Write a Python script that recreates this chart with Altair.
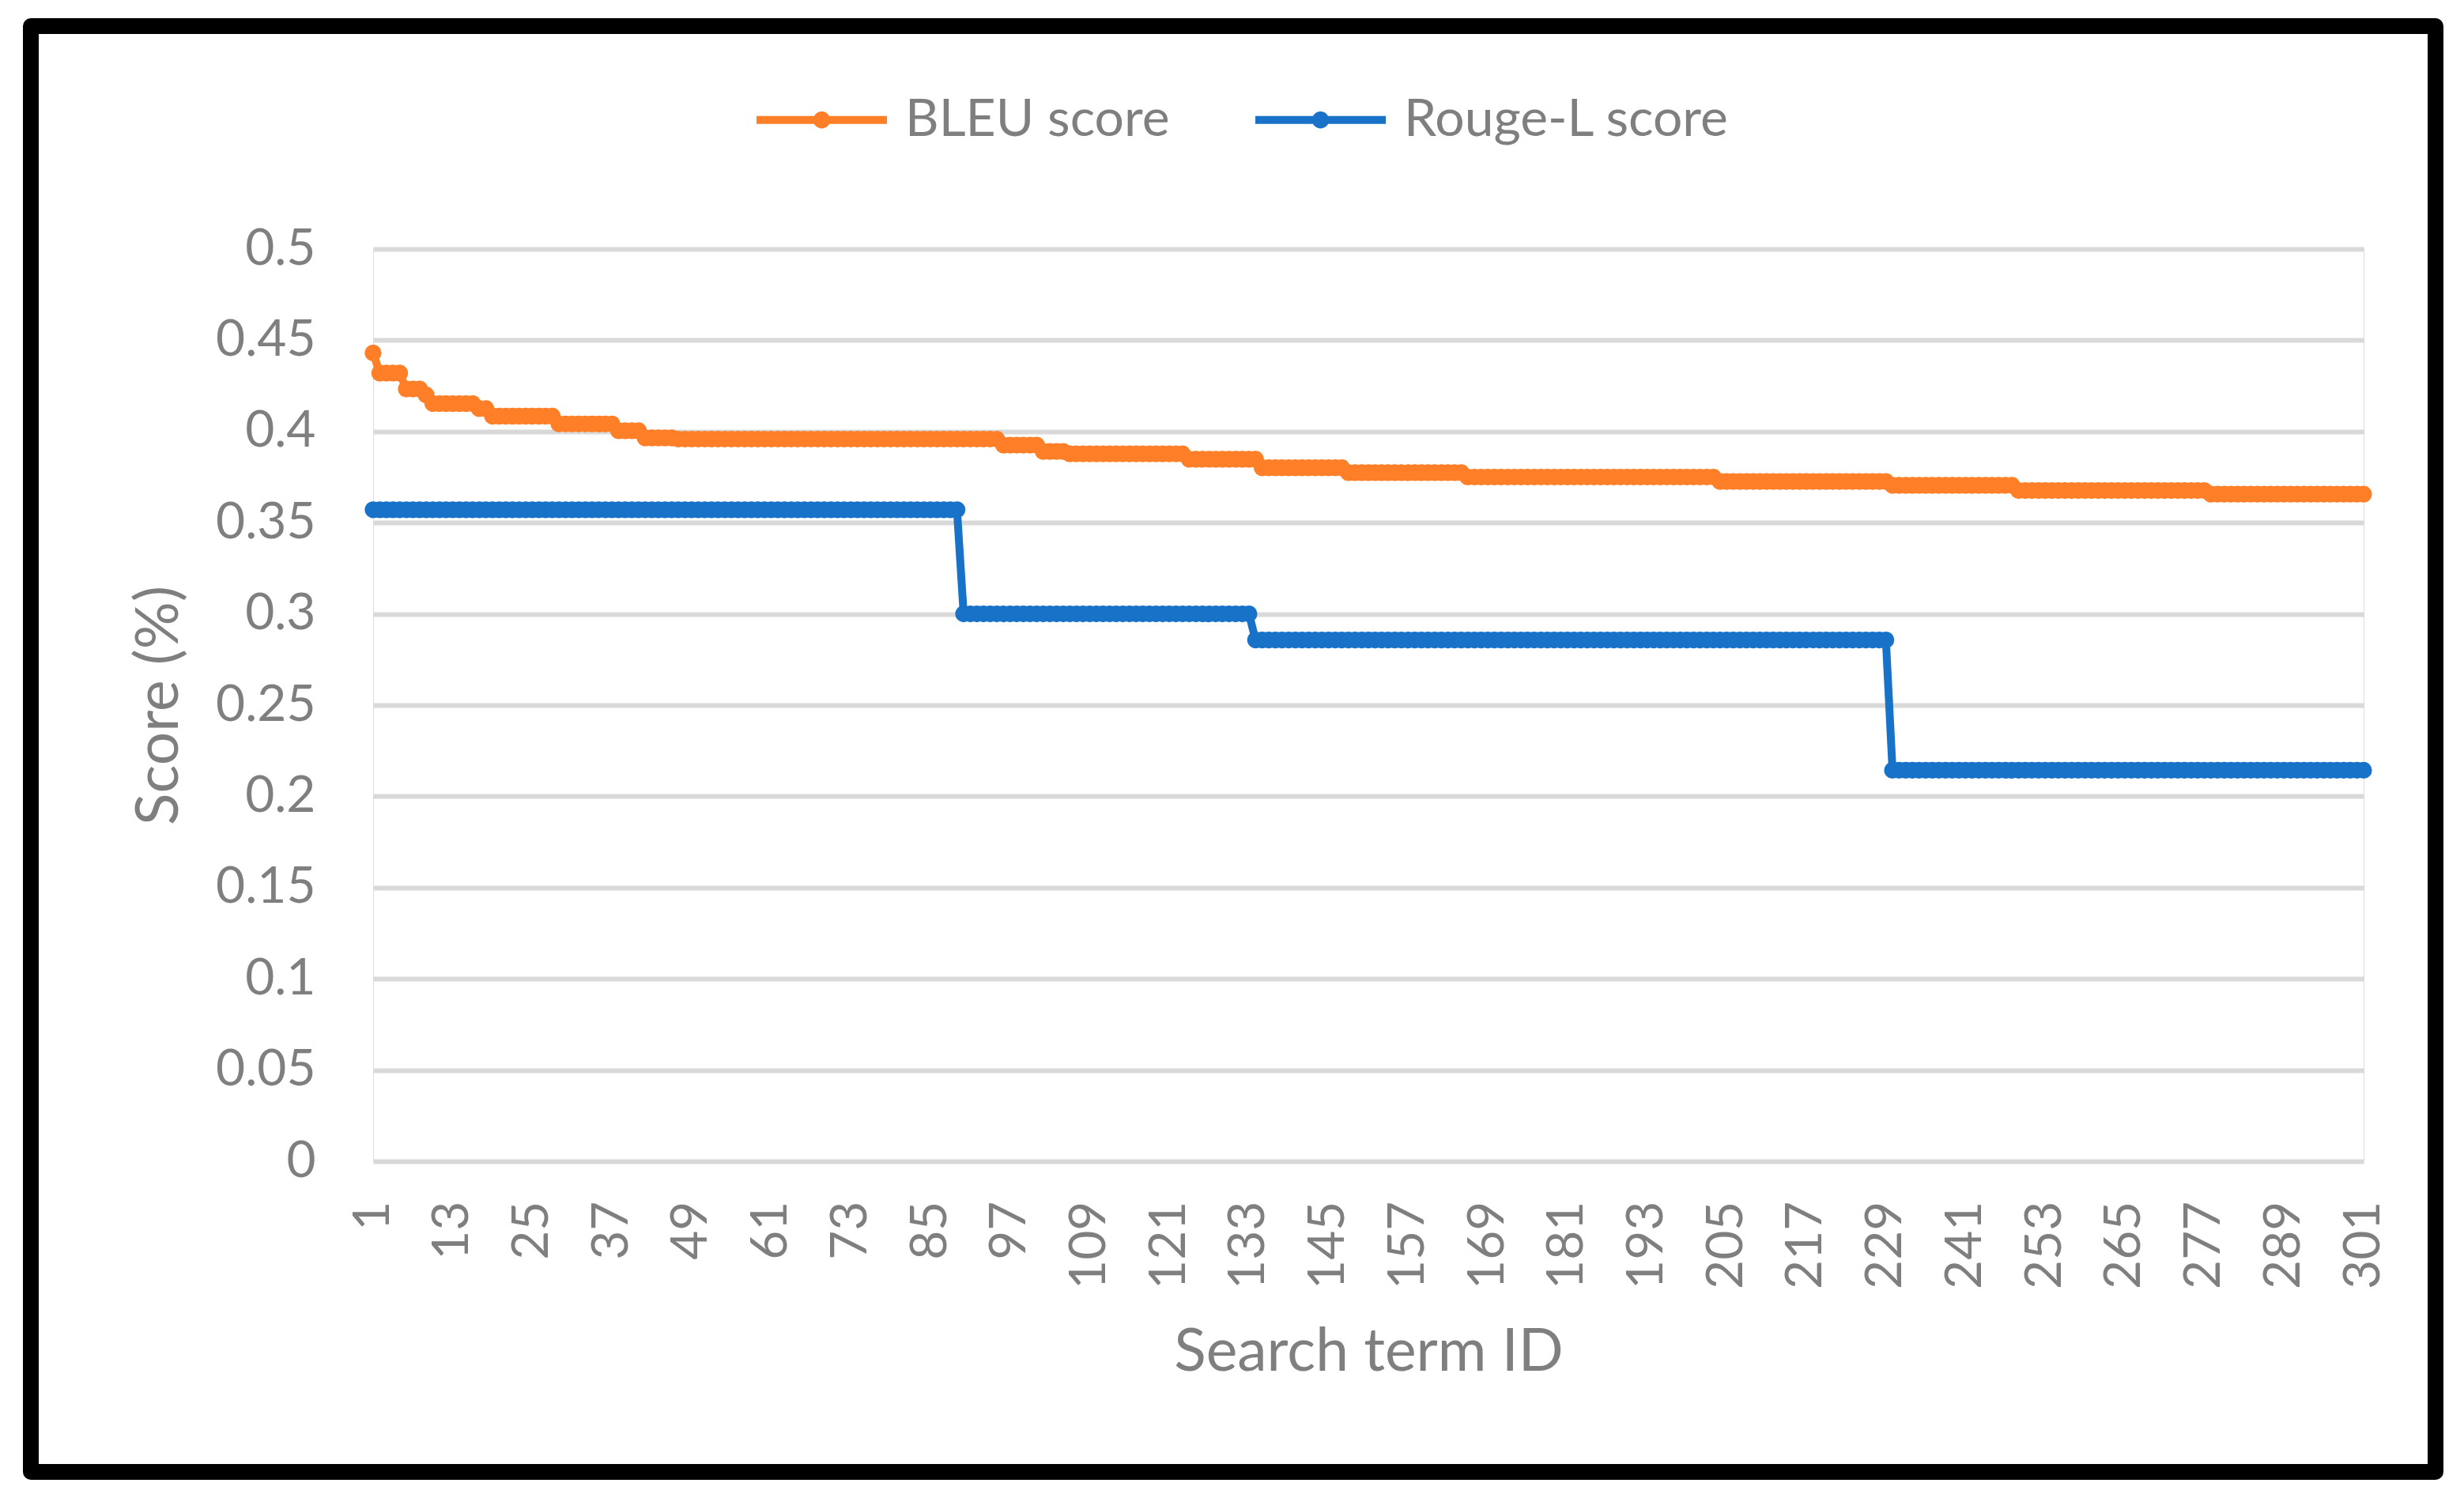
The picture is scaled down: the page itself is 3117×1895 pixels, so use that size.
import altair as alt
import pandas as pd

# ---- data (run-length: value, number of consecutive IDs) ----
bleu_levels = [0.443, 0.432, 0.4233, 0.420, 0.4153, 0.4125, 0.4084, 0.4041, 0.4004,
               0.3965, 0.3958, 0.3925, 0.389, 0.3877, 0.3848, 0.3801, 0.3774, 0.375,
               0.3726, 0.3705, 0.3676, 0.3656]
bleu_runs = [1, 4, 3, 1, 7, 2, 10, 9, 4, 5, 49, 6, 4, 18, 11, 13, 18, 38, 26, 19, 29, 24]

rouge_levels = [0.3571, 0.30, 0.2857, 0.2143]
rouge_runs = [89, 44, 96, 72]

series_names = ["BLEU score", "Rouge-L score"]
series_colors = ["#FE7F27", "#1772C8"]

x_tick_values = [1, 13, 25, 37, 49, 61, 73, 85, 97, 109, 121, 133, 145, 157, 169,
                 181, 193, 205, 217, 229, 241, 253, 265, 277, 289, 301]
y_tick_values = [0, 0.05, 0.1, 0.15, 0.2, 0.25, 0.3, 0.35, 0.4, 0.45, 0.5]

rows = []
for name, levels, runs in [(series_names[0], bleu_levels, bleu_runs),
                           (series_names[1], rouge_levels, rouge_runs)]:
    i = 1
    for v, n in zip(levels, runs):
        for _ in range(n):
            rows.append({"id": i, "score": v, "series": name})
            i += 1
df = pd.DataFrame(rows)

GRAY = "#7F7F7F"
FONT = "Lato"

W, H = 2518, 1154

legend_path = ("M-1,0L1,0 M-0.07,0 A0.07,0.07 0 1,0 0.07,0 "
               "A0.07,0.07 0 1,0 -0.07,0 Z")

legend = alt.Legend(
    title=None,
    orient="none",
    direction="horizontal",
    legendX=480,
    legendY=-251,
    symbolType=legend_path,
    symbolSize=27225,
    symbolStrokeWidth=10,
    symbolOpacity=1,
    labelFont=FONT,
    labelFontSize=66,
    labelColor=GRAY,
    labelOffset=18,
    labelLimit=2000,
    columnPadding=88,
)

color = alt.Color(
    "series:N",
    scale=alt.Scale(domain=series_names, range=series_colors),
    legend=legend,
)

x = alt.X(
    "id:Q",
    scale=alt.Scale(domain=[1, 301], nice=False, zero=False),
    axis=alt.Axis(
        values=x_tick_values,
        labelAngle=270,
        labelFont=FONT,
        labelFontSize=64,
        labelColor=GRAY,
        labelPadding=50,
        labelOverlap=False,
        labelFlush=False,
        ticks=False,
        domain=False,
        grid=False,
        title="Search term ID",
        titleFont=FONT,
        titleFontSize=75,
        titleFontWeight="normal",
        titleColor=GRAY,
        titleX=1259,
        titleY=241,
        titleAlign="center",
        titleBaseline="middle",
    ),
)

y = alt.Y(
    "score:Q",
    scale=alt.Scale(domain=[0, 0.5], nice=False),
    axis=alt.Axis(
        values=y_tick_values,
        format="~g",
        labelFont=FONT,
        labelFontSize=64,
        labelColor=GRAY,
        labelPadding=73,
        ticks=False,
        domain=False,
        grid=True,
        gridColor="#D9D9D9",
        gridWidth=6,
        title="Score (%)",
        titleFont=FONT,
        titleFontSize=75,
        titleFontWeight="normal",
        titleColor=GRAY,
        titleAngle=270,
        titleX=-271,
        titleY=577,
        titleAlign="center",
        titleBaseline="middle",
    ),
)

base = alt.Chart(df).encode(x=x, y=y, color=color)
lines = base.mark_line(strokeWidth=10, strokeJoin="round", strokeCap="round")
points = base.mark_circle(size=450, opacity=1)

frame = alt.Chart(pd.DataFrame({"k": [0]})).mark_rect(
    fill="transparent", stroke="black", strokeWidth=20, strokeJoin="round"
).encode(
    x=alt.value(-433), x2=alt.value(2609), y=alt.value(-282), y2=alt.value(1547)
)

chart = alt.layer(lines, points, frame).properties(
    width=W,
    height=H,
    autosize=alt.AutoSizeParams(type="none"),
    padding={"left": 464, "top": 307, "right": 105, "bottom": 410},
).configure_view(stroke=None).configure(background="white")

chart.save("out.html", embed_options={"renderer": "svg", "actions": False})
